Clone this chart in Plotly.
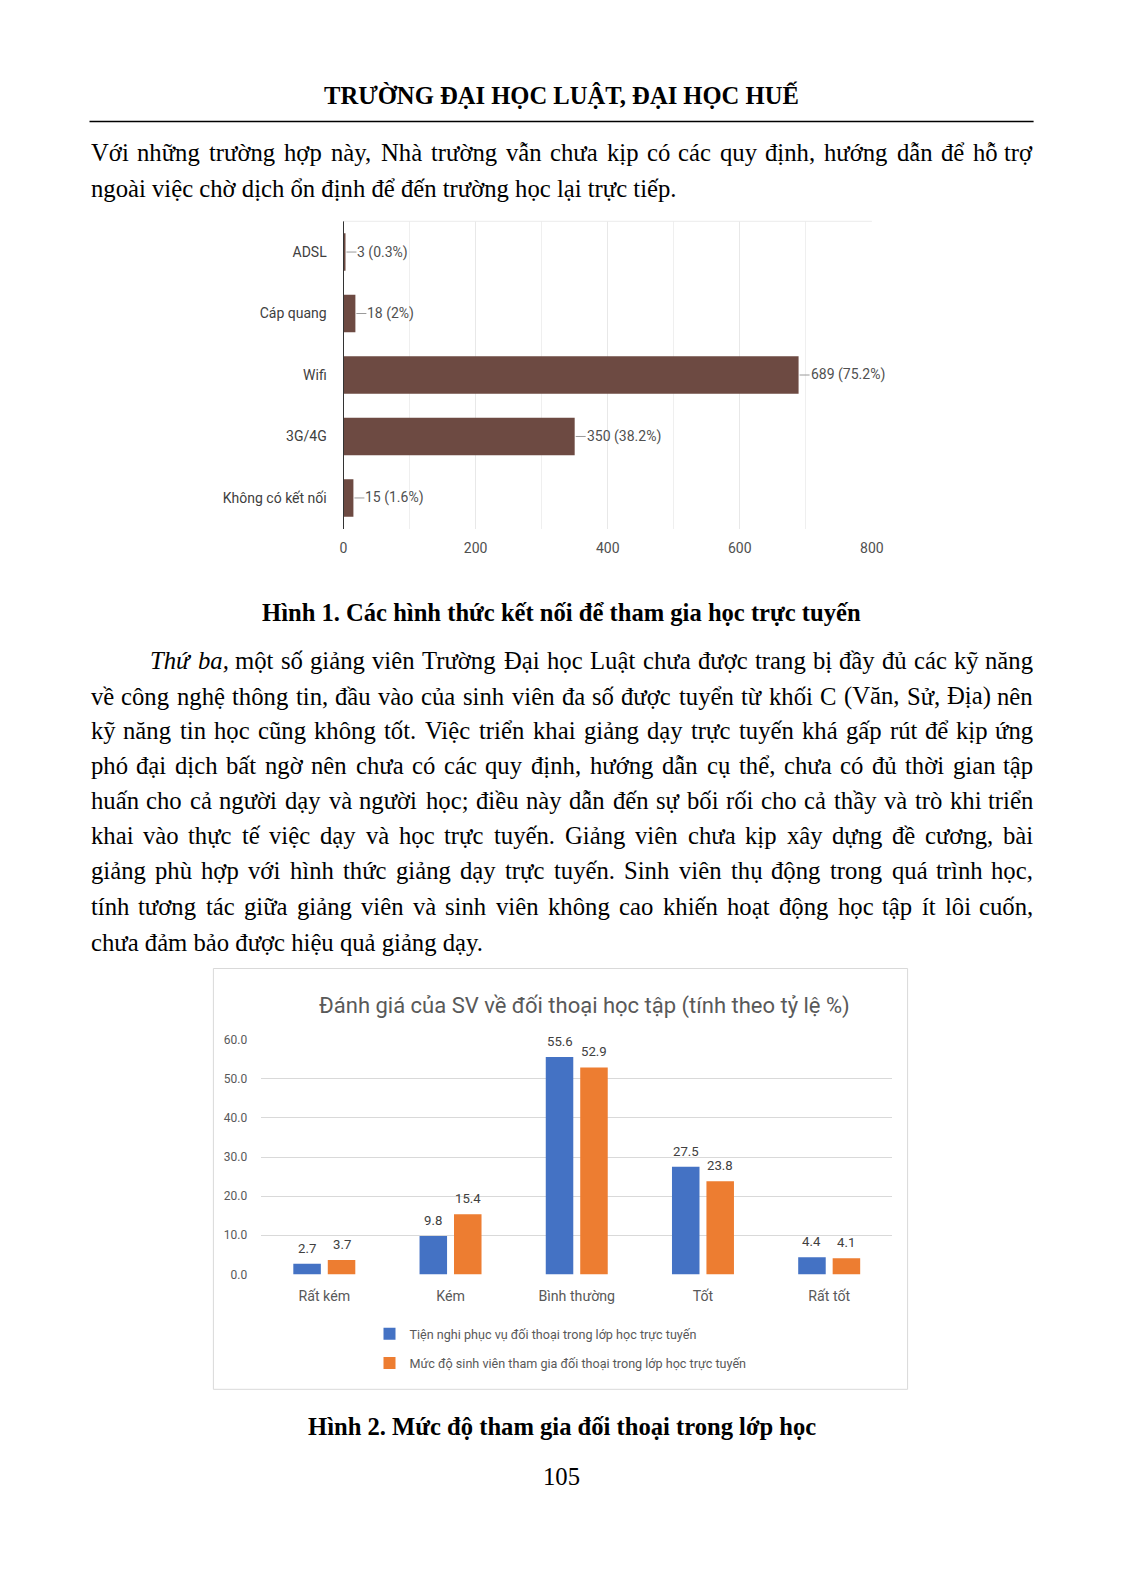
import re
import unicodedata
import plotly.graph_objects as go

# ---------------- data ----------------
conn_cats = ["ADSL", "Cáp quang", "Wifi", "3G/4G", "Không có kết nối"]
conn_counts = [3, 18, 689, 350, 15]
conn_pcts = ["0.3%", "2%", "75.2%", "38.2%", "1.6%"]
conn_ticks = [0, 200, 400, 600, 800]

levels = ["Rất kém", "Kém", "Bình thường", "Tốt", "Rất tốt"]
facility = [2.7, 9.8, 55.6, 27.5, 4.4]
participation = [3.7, 15.4, 52.9, 23.8, 4.1]
series_names = ["Tiện nghi phục vụ đối thoại trong lớp học trực tuyến",
                "Mức độ sinh viên tham gia đối thoại trong lớp học trực tuyến"]
chart2_title = "Đánh giá của SV về đối thoại học tập (tính theo tỷ lệ %)"
y2_ticks = [0, 10, 20, 30, 40, 50, 60]

header = "TRƯỜNG ĐẠI HỌC LUẬT, ĐẠI HỌC HUẾ"
para1 = ["Với những trường hợp này, Nhà trường vẫn chưa kịp có các quy định, hướng dẫn để hỗ trợ",
         "ngoài việc chờ dịch ổn định để đến trường học lại trực tiếp."]
caption1 = "Hình 1. Các hình thức kết nối để tham gia học trực tuyến"
para2 = ["<i>Thứ</i> <i>ba,</i> một số giảng viên Trường Đại học Luật chưa được trang bị đầy đủ các kỹ năng",
         "về công nghệ thông tin, đầu vào của sinh viên đa số được tuyển từ khối C (Văn, Sử, Địa) nên",
         "kỹ năng tin học cũng không tốt. Việc triển khai giảng dạy trực tuyến khá gấp rút để kịp ứng",
         "phó đại dịch bất ngờ nên chưa có các quy định, hướng dẫn cụ thể, chưa có đủ thời gian tập",
         "huấn cho cả người dạy và người học; điều này dẫn đến sự bối rối cho cả thầy và trò khi triển",
         "khai vào thực tế việc dạy và học trực tuyến. Giảng viên chưa kịp xây dựng đề cương, bài",
         "giảng phù hợp với hình thức giảng dạy trực tuyến. Sinh viên thụ động trong quá trình học,",
         "tính tương tác giữa giảng viên và sinh viên không cao khiến hoạt động học tập ít lôi cuốn,",
         "chưa đảm bảo được hiệu quả giảng dạy."]
caption2 = "Hình 2. Mức độ tham gia đối thoại trong lớp học"
page_no = "105"

# ---------------- helpers ----------------
# figure kept slightly smaller than the window so no scrollbars appear;
# coordinates below are page pixels (1:1).
FW, FH = 1106, 1578


def px(x):
    return x / FW


def py(y):
    return 1 - y / FH


SERIF = "Liberation Serif, 'Times New Roman', serif"
NARROW = "'Liberation Sans Narrow', 'Arial Narrow', Roboto, sans-serif"

TW = {' ': 250, ',': 250, '.': 250, ';': 278, ':': 278, '(': 333, ')': 333, '%': 833, '-': 333,
      'a': 444, 'b': 500, 'c': 444, 'd': 500, 'e': 444, 'f': 333, 'g': 500, 'h': 500, 'i': 278,
      'j': 278, 'k': 500, 'l': 278, 'm': 778, 'n': 500, 'o': 500, 'p': 500, 'q': 500, 'r': 333,
      's': 389, 't': 278, 'u': 500, 'v': 500, 'w': 722, 'x': 500, 'y': 500, 'z': 444,
      'A': 722, 'B': 667, 'C': 667, 'D': 722, 'E': 611, 'F': 556, 'G': 722, 'H': 722, 'I': 333,
      'J': 389, 'K': 722, 'L': 611, 'M': 889, 'N': 722, 'O': 722, 'P': 556, 'Q': 722, 'R': 667,
      'S': 556, 'T': 611, 'U': 722, 'V': 722, 'W': 944, 'X': 722, 'Y': 722, 'Z': 611}


def word_w(word, fs):
    plain = re.sub(r"<[^>]+>", "", word)
    tot = 0
    for ch in plain:
        if ch == 'đ':
            tot += 500
        elif ch == 'Đ':
            tot += 722
        else:
            nfd = unicodedata.normalize('NFD', ch)
            tot += TW.get(nfd[0], 500)
            if '\u031b' in nfd:          # horn (ư, ơ) is a bit wider
                tot += 40
    return tot * fs / 1000.0 * 1.01


annotations = []
shapes = []

BODY_FS = 24.7
LEFT, RIGHT = 89.5, 1033.6


def add_line(text, ycen, left=LEFT, justify=True, fs=BODY_FS):
    if not justify:
        annotations.append(dict(text=text, x=px(left), y=py(ycen), xref='paper', yref='paper',
                                xanchor='left', yanchor='middle', showarrow=False, borderpad=0,
                                font=dict(family=SERIF, size=fs, color='#000')))
        return
    words = text.split(' ')
    ws = [word_w(w, fs) for w in words]
    gap = (RIGHT - left - sum(ws)) / (len(words) - 1)
    x = left
    for k, (w, ww) in enumerate(zip(words, ws)):
        last = k == len(words) - 1
        annotations.append(dict(text=w, x=px(RIGHT if last else x), y=py(ycen), xref='paper',
                                yref='paper', xanchor='right' if last else 'left',
                                yanchor='middle', showarrow=False, borderpad=0,
                                font=dict(family=SERIF, size=fs, color='#000')))
        x += ww + gap


def add_center(text, ycen, fs, bold=True):
    annotations.append(dict(text=f"<b>{text}</b>" if bold else text, x=px(561.5), y=py(ycen),
                            xref='paper', yref='paper', xanchor='center', yanchor='middle',
                            showarrow=False, borderpad=0,
                            font=dict(family=SERIF, size=fs, color='#000')))


# ---------------- page text ----------------
add_center(header, 94.5, 24.6)
shapes.append(dict(type='line', xref='paper', yref='paper', x0=px(LEFT), x1=px(RIGHT),
                   y0=py(121.5), y1=py(121.5), line=dict(color='#000', width=1.5)))
p1_y = [152.4, 188.0]
add_line(para1[0], p1_y[0])
add_line(para1[1], p1_y[1], justify=False)
add_center(caption1, 612.8, 24.6)
p2_y = [660.6, 696.2, 730.7, 765.3, 800.8, 835.4, 871.0, 906.5, 942.1]
for k, (ln, yy) in enumerate(zip(para2, p2_y)):
    if k == 0:
        add_line(ln, yy, left=149.4)
    elif k == len(para2) - 1:
        add_line(ln, yy, justify=False)
    else:
        add_line(ln, yy)
add_center(caption2, 1426.0, 24.6)
add_center(page_no, 1476.7, 24.7, bold=False)

# ---------------- chart 1 ----------------
fig = go.Figure()
fig.add_trace(go.Bar(x=conn_counts, y=conn_cats, orientation='h', xaxis='x', yaxis='y',
                     width=0.61, marker=dict(color='#6d4a42', line=dict(width=0)),
                     showlegend=False, hoverinfo='skip'))
for i, (c, p) in enumerate(zip(conn_counts, conn_pcts)):
    shapes.append(dict(type='line', xref='x', yref='y', xsizemode='pixel', xanchor=c,
                       x0=1, x1=11, y0=i, y1=i, line=dict(color='#9a9a9a', width=1)))
    annotations.append(dict(text=f"{c} ({p})", x=c, y=conn_cats[i], xref='x', yref='y',
                            xanchor='left', yanchor='middle', xshift=11, showarrow=False,
                            borderpad=0, font=dict(family=NARROW, size=14, color='#505050')))
# faint frame line along the top of the plot area
shapes.append(dict(type='line', xref='x domain', yref='y domain', x0=0, x1=1, y0=1, y1=1,
                   line=dict(color='#ececec', width=1)))

# ---------------- chart 2 ----------------
bw, bgap = 0.218, 0.055
offs = [-(bw + bgap / 2), bgap / 2]
colors = ['#4472C4', '#ED7D31']
for s, (vals, name, col, off) in enumerate(zip([facility, participation], series_names, colors, offs)):
    fig.add_trace(go.Bar(x=levels, y=vals, name=name, xaxis='x2', yaxis='y2', width=bw,
                         offset=off, marker=dict(color=col, line=dict(width=0)),
                         legendgroup=f"g{s}", hoverinfo='skip'))
    for i, v in enumerate(vals):
        annotations.append(dict(text=f"{v:.1f}", x=i + off + bw / 2, y=v, xref='x2', yref='y2',
                                xanchor='center', yanchor='bottom', yshift=6, showarrow=False,
                                font=dict(family=NARROW, size=13.2, color='#404040')))

annotations.append(dict(text=chart2_title, x=px(584.4), y=py(1006), xref='paper', yref='paper',
                        xanchor='center', yanchor='middle', showarrow=False,
                        font=dict(family=NARROW, size=22, color='#595959')))
shapes.append(dict(type='rect', xref='paper', yref='paper', x0=px(213.4), x1=px(907.6),
                   y0=py(1389.3), y1=py(968.5), line=dict(color='#d9d9d9', width=1)))

fig.update_layout(
    width=FW, height=FH, margin=dict(l=0, r=0, t=0, b=0), autosize=False,
    paper_bgcolor='white', plot_bgcolor='rgba(0,0,0,0)', barmode='overlay',
    xaxis=dict(domain=[px(343.5), px(871.9)], anchor='y', range=[0, 800], tickvals=conn_ticks,
               showgrid=True, gridcolor='#e8e8e8', zeroline=False, showline=False, ticks='',
               minor=dict(dtick=100, showgrid=True, gridcolor='#efefef'),
               tickfont=dict(family=NARROW, size=14, color='#505050'), ticklabelstandoff=9,
               fixedrange=True, automargin=False),
    yaxis=dict(domain=[py(528.7), py(221.3)], anchor='x', type='category',
               categoryorder='array', categoryarray=conn_cats, range=[4.5, -0.5],
               showline=True, linecolor='#333', linewidth=1, showgrid=False, ticks='',
               tickfont=dict(family=NARROW, size=14, color='#404040'), ticklabelstandoff=13,
               fixedrange=True, automargin=False),
    xaxis2=dict(domain=[px(261.2), px(892.3)], anchor='y2', type='category', range=[-0.5, 4.5],
                showgrid=False, showline=False, zeroline=False, ticks='',
                tickfont=dict(family=NARROW, size=14.2, color='#595959'), ticklabelstandoff=11,
                fixedrange=True, automargin=False),
    yaxis2=dict(domain=[py(1274.4), py(1039.7)], anchor='x2', range=[0, 60], tickvals=y2_ticks,
                tickformat='.1f', showgrid=True, gridcolor='#d9d9d9', zeroline=False,
                showline=False, ticks='', tickfont=dict(family=NARROW, size=12, color='#595959'),
                ticklabelstandoff=13, fixedrange=True, automargin=False),
    legend=dict(orientation='v', x=px(369.5), y=py(1319), xanchor='left', yanchor='top',
                font=dict(family=NARROW, size=12.6, color='#595959'), tracegroupgap=10,
                bgcolor='rgba(0,0,0,0)'),
    annotations=annotations, shapes=shapes, hovermode=False,
)

fig.write_html("out.html")
